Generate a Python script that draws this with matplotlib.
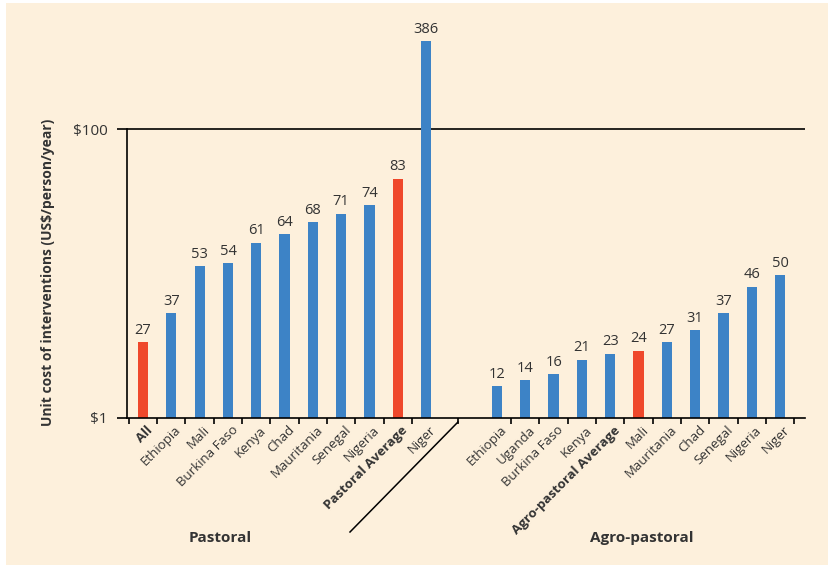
import numpy as np
import matplotlib.pyplot as plt
from matplotlib.lines import Line2D
from matplotlib.patches import Rectangle

plt.rcParams['font.family'] = ['Open Sans', 'DejaVu Sans']

# Дані: вартість заходів (US$/людина/рік)
pastoral_labels = ['All', 'Ethiopia', 'Mali', 'Burkina Faso', 'Kenya', 'Chad',
                   'Mauritania', 'Senegal', 'Nigeria', 'Pastoral Average', 'Niger']
pastoral_values = [27, 37, 53, 54, 61, 64, 68, 71, 74, 83, 386]
pastoral_red = ['All', 'Pastoral Average']

agro_labels = ['Ethiopia', 'Uganda', 'Burkina Faso', 'Kenya', 'Agro-pastoral Average',
               'Mali', 'Mauritania', 'Chad', 'Senegal', 'Nigeria', 'Niger']
agro_values = [12, 14, 16, 21, 23, 24, 27, 31, 37, 46, 50]
agro_red = ['Mali']

bold_labels = ['All', 'Pastoral Average', 'Agro-pastoral Average']

BLUE = '#3d83c6'
RED = '#ef482b'
BG = '#fdf0dc'
TXT = '#333333'
CAP = 130  # Niger виходить за межі шкали - обрізаємо стовпчик

fig = plt.figure(figsize=(8.31, 5.68), dpi=100)
fig.patches.append(Rectangle((6 / 831, 3 / 568), 822 / 831, 562 / 568,
                             transform=fig.transFigure, facecolor=BG,
                             edgecolor='none', zorder=-10))

ax = fig.add_axes([127 / 831, 1 - 418 / 568, 678 / 831, 418 / 568])
ax.set_facecolor('none')

x_p = np.arange(len(pastoral_values))
x_a = np.arange(len(agro_values)) + len(pastoral_values) + 1.5
xs = np.concatenate([x_p, x_a])
vals = np.array(pastoral_values + agro_values)
labels = pastoral_labels + agro_labels
reds = [l in pastoral_red for l in pastoral_labels] + [l in agro_red for l in agro_labels]
colors = [RED if r else BLUE for r in reds]

heights = np.minimum(vals, CAP)
ax.bar(xs, heights - 1, bottom=1, width=0.36, color=colors, zorder=2)
for x, h, v in zip(xs, heights, vals):
    ax.text(x, h + 1.5, str(v), ha='center', va='bottom', fontsize=10.5, color=TXT)

ax.set_xlim(-0.565, 23.38)
ax.set_ylim(1, 144.2)

ax.axhline(100, color='black', lw=1.2, zorder=1)
ax.set_yticks([1, 100], ['\\$1', '\\$100'])
ax.tick_params(axis='y', length=7, width=1.2, direction='out', pad=7,
               labelsize=11, labelcolor=TXT)

ax.set_xticks(xs + 0.12, labels, rotation=45, ha='right', rotation_mode='anchor')
ax.tick_params(axis='x', which='major', length=0, pad=4, labelsize=9.5, labelcolor=TXT)
for t in ax.get_xticklabels():
    if t.get_text() in bold_labels:
        t.set_fontweight('bold')
minor = list(np.arange(len(pastoral_values)) - 0.5) + [11.13] + list(x_a + 0.5)
ax.set_xticks(minor, minor=True)
ax.tick_params(axis='x', which='minor', length=4, width=1.2, direction='out')

for s in ['top', 'right']:
    ax.spines[s].set_visible(False)
ax.spines['left'].set_bounds(1, 100)
ax.spines['left'].set_linewidth(1.2)
ax.spines['bottom'].set_linewidth(1.2)

# діагональна лінія-роздільник між групами
fig.add_artist(Line2D([350 / 831, 458 / 831], [1 - 532 / 568, 1 - 422 / 568],
                      color='black', lw=1.1))

fig.text(220 / 831, 1 - 538 / 568, 'Pastoral', ha='center', va='center',
         fontsize=11, fontweight='bold', color=TXT)
fig.text(642 / 831, 1 - 538 / 568, 'Agro-pastoral', ha='center', va='center',
         fontsize=11, fontweight='bold', color=TXT)
fig.text(48 / 831, 1 - 272 / 568, 'Unit cost of interventions (US\\$/person/year)',
         rotation=90, ha='center', va='center', fontsize=10, fontweight='bold', color=TXT)

fig.savefig('out.png', dpi=100, facecolor='white')
